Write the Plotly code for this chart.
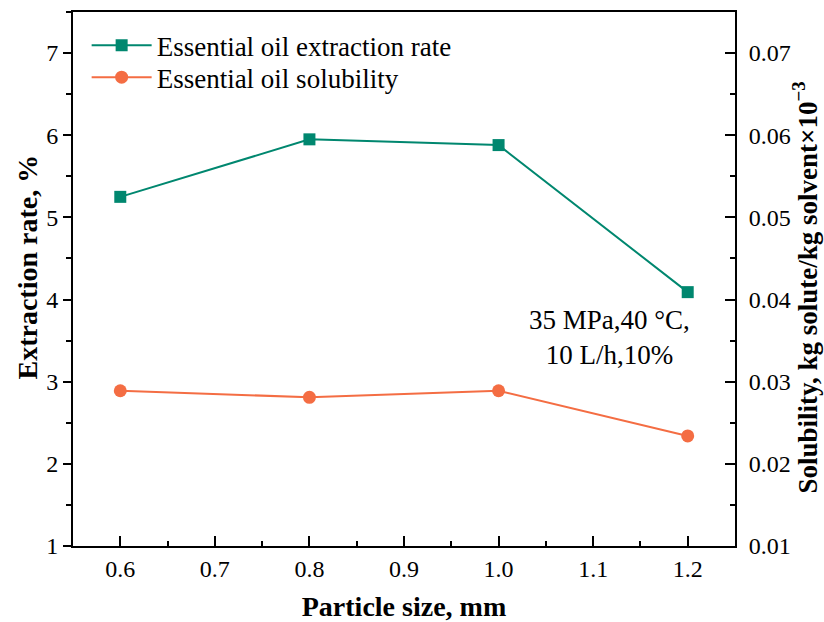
import plotly.graph_objects as go

particle_size = [0.6, 0.8, 1.0, 1.2]
extraction_rate = [5.25, 5.95, 5.88, 4.09]
solubility = [0.0289, 0.0281, 0.0289, 0.0234]

green = "#00876F"
orange = "#F46D43"
font = "Liberation Serif, Times New Roman, serif"

fig = go.Figure()
fig.add_trace(go.Scatter(x=particle_size, y=extraction_rate, mode="lines+markers",
                         name="Essential oil extraction rate", legend="legend",
                         line=dict(color=green, width=2),
                         marker=dict(symbol="square", size=12, color=green)))
fig.add_trace(go.Scatter(x=particle_size, y=solubility, mode="lines+markers",
                         name="Essential oil solubility", yaxis="y2", legend="legend2",
                         line=dict(color=orange, width=2),
                         marker=dict(symbol="circle", size=13, color=orange)))

fig.add_annotation(x=0.811, y=0.39, xref="paper", yref="paper", xanchor="center", yanchor="middle",
                   text="35 MPa,40 °C,<br>10 L/h,10%", showarrow=False,
                   font=dict(family=font, size=27, color="black"), align="center")

titlefont = dict(size=28, family=font, color="black")
fig.add_annotation(x=-0.0687, y=0.5225, xref="paper", yref="paper", xanchor="center", yanchor="middle",
                   text="<b>Extraction rate, %</b>", textangle=-90, showarrow=False, font=titlefont)
fig.add_annotation(x=1.1065, y=0.483, xref="paper", yref="paper", xanchor="center", yanchor="middle",
                   text="<b>Solubility, kg solute/kg solvent×10<sup>−3</sup></b>", textangle=-90,
                   showarrow=False, font=dict(size=27, family=font, color="black"))

tickfont = dict(size=24, family=font, color="black")
legfont = dict(family=font, size=27, color="black")

fig.update_layout(
    width=824, height=622,
    margin=dict(l=73, r=89, t=12, b=76, autoexpand=False),
    plot_bgcolor="white", paper_bgcolor="white",
    font=dict(family=font, color="black", size=24),
    showlegend=True,
    legend=dict(x=0.0206, y=0.983, xanchor="left", yanchor="top", font=legfont,
                bgcolor="rgba(0,0,0,0)", itemwidth=60),
    legend2=dict(x=0.0206, y=0.923, xanchor="left", yanchor="top", font=legfont,
                 bgcolor="rgba(0,0,0,0)", itemwidth=60),
    xaxis=dict(range=[0.55, 1.25], tickvals=[0.6, 0.7, 0.8, 0.9, 1.0, 1.1, 1.2],
               ticktext=["0.6", "0.7", "0.8", "0.9", "1.0", "1.1", "1.2"],
               showline=True, linecolor="black", linewidth=2, mirror=True,
               ticks="inside", ticklen=10, tickwidth=2, tickcolor="black",
               minor=dict(ticks="inside", ticklen=5, tickwidth=2, tickcolor="black", dtick=0.05, tick0=0.55),
               showgrid=False, zeroline=False, automargin=False,
               title=dict(text="<b>Particle size, mm</b>", font=titlefont, standoff=16),
               tickfont=tickfont),
    yaxis=dict(range=[1, 7.5], dtick=1, tick0=1,
               showline=True, linecolor="black", linewidth=2,
               ticks="outside", ticklen=8, tickwidth=2, tickcolor="black",
               minor=dict(ticks="outside", ticklen=5, tickwidth=2, tickcolor="black", dtick=0.5),
               showgrid=False, zeroline=False, automargin=False,
               tickfont=tickfont),
    yaxis2=dict(range=[0.01, 0.075], dtick=0.01, tick0=0.01, overlaying="y", side="right",
                tickformat=".2f",
                showline=True, linecolor="black", linewidth=2,
                ticks="inside", ticklen=10, tickwidth=2, tickcolor="black",
                minor=dict(ticks="inside", ticklen=5, tickwidth=2, tickcolor="black", dtick=0.005),
                showgrid=False, zeroline=False, automargin=False, ticklabelstandoff=7,
                tickfont=tickfont),
)

fig.write_html("out.html", config={"displayModeBar": False},
               post_script="document.body.style.margin='0px';")
